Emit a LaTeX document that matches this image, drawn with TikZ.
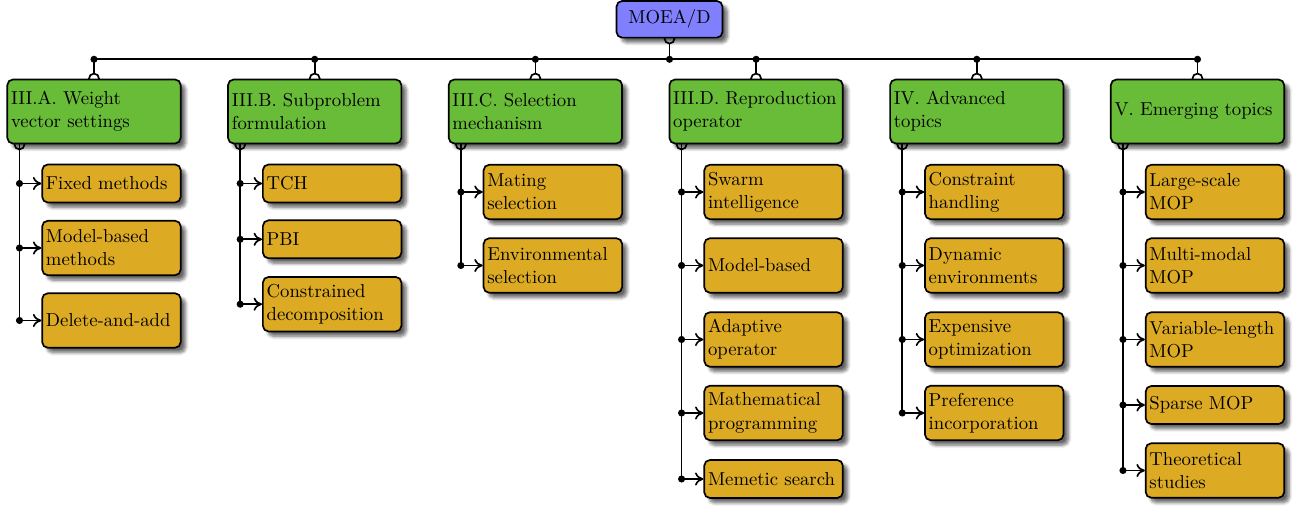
\documentclass[tikz,border=0pt]{standalone}
\usetikzlibrary{shadows.blur,calc,arrows.meta,backgrounds}
\definecolor{rootblue}{RGB}{128,128,255}
\definecolor{catgreen}{RGB}{104,188,56}
\definecolor{leafgold}{RGB}{221,170,36}
\tikzset{
  box/.style={draw=black, line width=0.9pt, rounded corners=3pt,
    blur shadow={shadow blur steps=6, shadow xshift=0.6ex, shadow yshift=-0.6ex, shadow opacity=60},
    inner xsep=2pt, inner ysep=0pt, align=left,
    font=\fontsize{10}{12.4}\selectfont},
  rootbox/.style={box, fill=rootblue, minimum width=56.6pt, minimum height=19.6pt, align=center},
  catbox/.style={box, fill=catgreen, text width=88.6pt, minimum height=34.2pt},
  leafbox/.style={box, fill=leafgold, text width=70pt, minimum height=20.3pt},
  tall/.style={minimum height=29.1pt},
  conn/.style={line width=0.9pt},
  arr/.style={conn, -{To[length=4.5pt,width=7pt]}},
  opendot/.style={draw=black, line width=0.9pt, fill=white},
}
\newcommand{\dotr}{1.9pt}
\newcommand{\openr}{2.7pt}
\begin{document}
\begin{tikzpicture}[x=0.5342pt,y=-0.5342pt]
\useasboundingbox (0,0) rectangle (1303,506);
% root
\node[rootbox] (root) at (669.5,19.3) {MOEA/D};
\coordinate (bus0) at (669.5,59.3);
% categories
\node[catbox] (gA) at (94,111.5) {III.A. Weight\\vector settings};
\node[catbox] (gB) at (314.7,111.5) {III.B. Subproblem\\formulation};
\node[catbox] (gC) at (535.4,111.5) {III.C. Selection\\mechanism};
\node[catbox] (gD) at (756.1,111.5) {III.D. Reproduction\\operator};
\node[catbox] (gE) at (976.8,111.5) {IV. Advanced\\topics};
\node[catbox] (gF) at (1197.5,111.5) {V. Emerging topics};
% leaves A
\node[leafbox] (oA1) at (111.45,183.5) {Fixed methods};
\node[leafbox,tall] (oA2) at (111.45,248) {Model-based\\methods};
\node[leafbox,tall] (oA3) at (111.45,320.5) {Delete-and-add};
% leaves B
\node[leafbox] (oB1) at (332.15,183.5) {TCH};
\node[leafbox] (oB2) at (332.15,239.3) {PBI};
\node[leafbox,tall] (oB3) at (332.15,304.2) {Constrained\\decomposition};
% leaves C
\node[leafbox,tall] (oC1) at (552.85,192) {Mating\\selection};
\node[leafbox,tall] (oC2) at (552.85,265.5) {Environmental\\selection};
% leaves D
\node[leafbox,tall] (oD1) at (773.55,192) {Swarm\\intelligence};
\node[leafbox,tall] (oD2) at (773.55,265.5) {Model-based};
\node[leafbox,tall] (oD3) at (773.55,339.5) {Adaptive\\operator};
\node[leafbox,tall] (oD4) at (773.55,413) {Mathematical\\programming};
\node[leafbox] (oD5) at (773.55,479) {Memetic search};
% leaves E
\node[leafbox,tall] (oE1) at (994.25,192) {Constraint\\handling};
\node[leafbox,tall] (oE2) at (994.25,265.5) {Dynamic\\environments};
\node[leafbox,tall] (oE3) at (994.25,339.5) {Expensive\\optimization};
\node[leafbox,tall] (oE4) at (994.25,413) {Preference\\incorporation};
% leaves F
\node[leafbox,tall] (oF1) at (1214.95,192) {Large-scale\\MOP};
\node[leafbox,tall] (oF2) at (1214.95,265.5) {Multi-modal\\MOP};
\node[leafbox,tall] (oF3) at (1214.95,339.5) {Variable-length\\MOP};
\node[leafbox] (oF4) at (1214.95,405) {Sparse MOP};
\node[leafbox,tall] (oF5) at (1214.95,470.5) {Theoretical\\studies};

% stem start coordinates
\foreach \g in {A,B,C,D,E,F}{
  \coordinate (s\g) at ($(g\g.south west)+(13,0)$);
}

% connectors on background (nodes cover the open circles)
\begin{pgfonlayer}{background}
  \draw[conn] (root.south) -- (bus0);
  \draw[opendot] (root.south) circle (\openr);
  \draw[conn] (gA.north |- bus0) -- (gF.north |- bus0);
  \foreach \g in {A,B,C,D,E,F}{
    \draw[conn] (g\g.north |- bus0) -- (g\g.north);
    \draw[opendot] (g\g.north) circle (\openr);
    \draw[opendot] (s\g) circle (\openr);
  }
  \draw[conn] (sA) -- (sA |- oA3.west);
  \draw[conn] (sB) -- (sB |- oB3.west);
  \draw[conn] (sC) -- (sC |- oC2.west);
  \draw[conn] (sD) -- (sD |- oD5.west);
  \draw[conn] (sE) -- (sE |- oE4.west);
  \draw[conn] (sF) -- (sF |- oF5.west);
\end{pgfonlayer}

% bus dots
\fill (bus0) circle (\dotr);
\foreach \g in {A,B,C,D,E,F}{
  \fill (g\g.north |- bus0) circle (\dotr);
}

% arrows to leaves
\foreach \g/\n in {A/1,A/2,A/3,B/1,B/2,B/3,C/1,C/2,D/1,D/2,D/3,D/4,D/5,E/1,E/2,E/3,E/4,F/1,F/2,F/3,F/4,F/5}{
  \fill (s\g |- o\g\n.west) circle (\dotr);
  \draw[arr] (s\g |- o\g\n.west) -- (o\g\n.west);
}
\end{tikzpicture}
\end{document}
